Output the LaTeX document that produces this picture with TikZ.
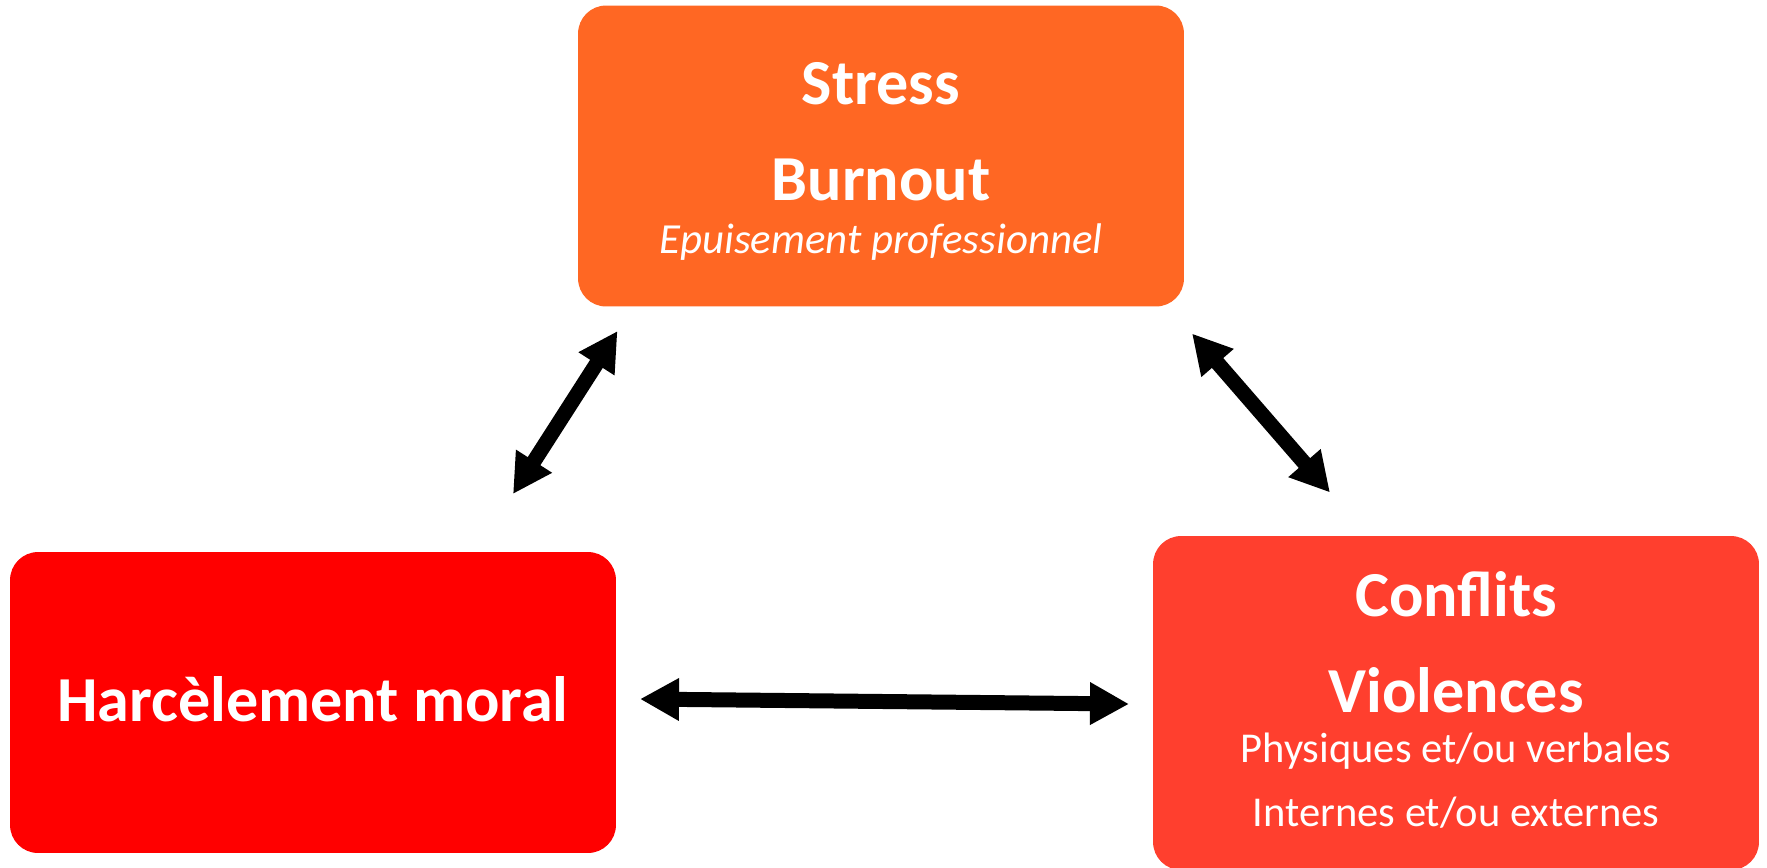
\documentclass[tikz,border=0pt]{standalone}
\usepackage{fontspec}
\setmainfont{Carlito}
\usetikzlibrary{arrows.meta}
\definecolor{stressorange}{HTML}{FF6723}
\definecolor{harcred}{HTML}{FF0000}
\definecolor{conflitred}{HTML}{FF3F2E}
% one drawing unit = 0.02cm
\tikzset{
  box/.style={rounded corners=0.56cm, minimum width=12.12cm, minimum height=6.02cm, inner sep=0pt, draw=none},
  bigtxt/.style={text=white, font=\fontsize{36.5}{40}\selectfont\bfseries, anchor=base, inner sep=0pt},
  smalltxt/.style={text=white, font=\fontsize{24.2}{26}\selectfont, anchor=base, inner sep=0pt},
  itxt/.style={text=white, font=\fontsize{24.4}{26}\selectfont\itshape, anchor=base, inner sep=0pt},
  biarrow/.style={line width=0.3cm, {Triangle[length=0.78cm,width=0.8cm]}-{Triangle[length=0.78cm,width=0.8cm]}}
}
\begin{document}
\begin{tikzpicture}[x=0.02cm, y=-0.02cm]
  \useasboundingbox (0,0) rectangle (1767,867);
  \begin{scope}
    \clip (0,0) rectangle (1767,867);
    % boxes
    \node[box, fill=stressorange] (stress) at (881,156) {};
    \node[box, fill=harcred] (harc) at (313,702.5) {};
    \node[box, fill=conflitred, minimum height=6.68cm] (conf) at (1456,703) {};
  \end{scope}
  % texts
  \node[bigtxt] (tstress) at (881,104) {Stress};
  \node[bigtxt] (tburn) at (881,200.5) {Burnout};
  \node[itxt] (tepu) at (881,253.5) {Epuisement professionnel};
  \node[bigtxt] (tharc) at (313,721) {Harcèlement moral};
  \node[bigtxt] (tconf) at (1456,616) {Conflits};
  \node[bigtxt] (tviol) at (1456,712) {Violences};
  \node[smalltxt] (tphys) at (1456,762) {Physiques et/ou verbales};
  \node[smalltxt] (tint) at (1456,826) {Internes et/ou externes};
  % arrow end points
  \coordinate (a1s) at (617.5,331);
  \coordinate (a1e) at (513,494);
  \coordinate (a2s) at (1192,333.5);
  \coordinate (a2e) at (1330,492.5);
  \coordinate (a3s) at (640,699);
  \coordinate (a3e) at (1129,704);
  \draw[biarrow] (a1s) -- (a1e);
  \draw[biarrow] (a2s) -- (a2e);
  \draw[biarrow] (a3s) -- (a3e);
\end{tikzpicture}
\end{document}
